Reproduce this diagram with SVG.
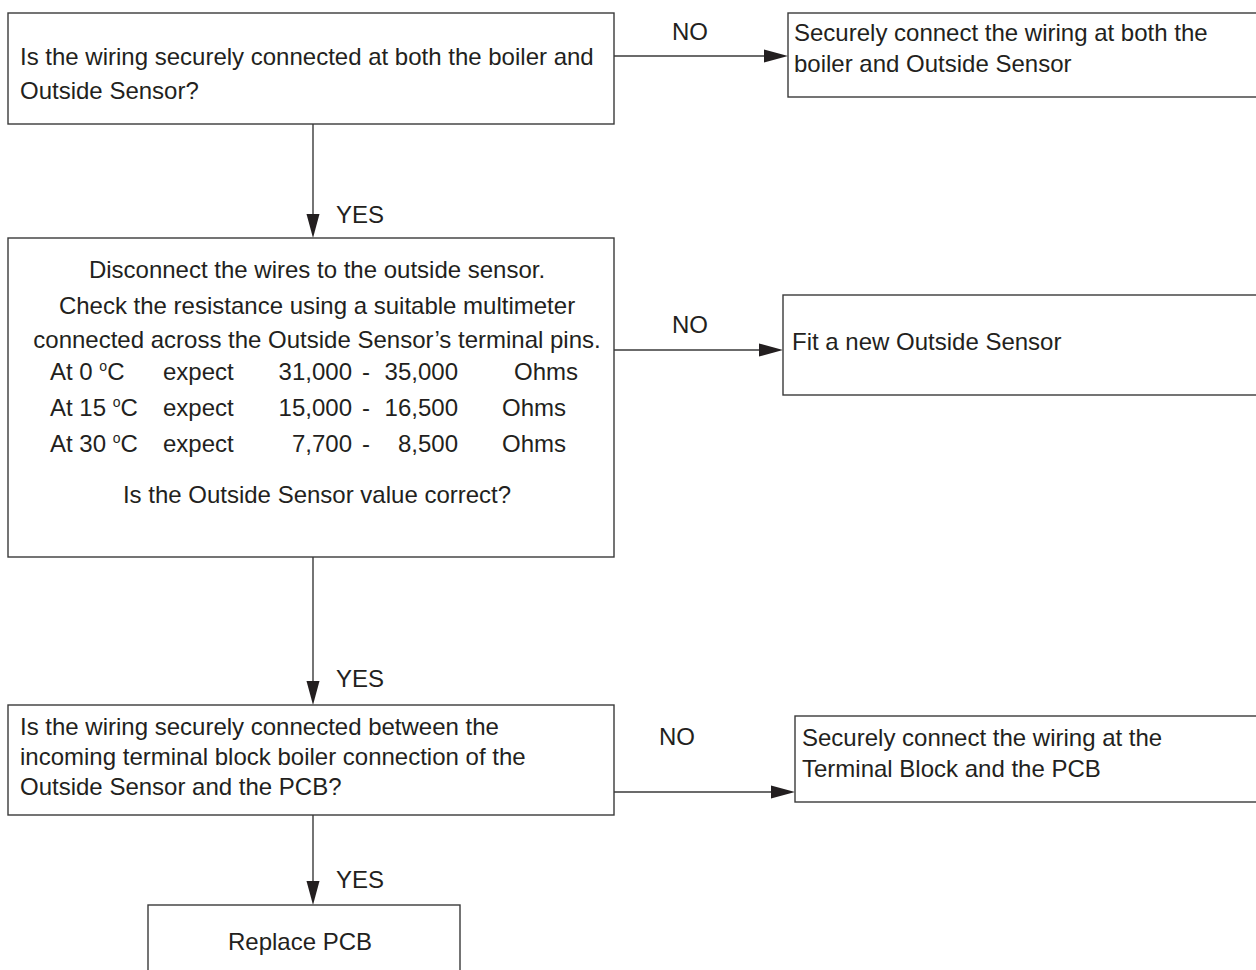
<svg xmlns="http://www.w3.org/2000/svg" width="1256" height="970" viewBox="0 0 1256 970">
<defs>
<style>
.box{fill:#fff;stroke:#3a3a3a;stroke-width:1.4}
.ln{fill:none;stroke:#3a3a3a;stroke-width:1.4}
.ah{fill:#231f20}
text{font-family:"Liberation Sans",Arial,sans-serif;font-size:24px;fill:#231f20}
.c{text-anchor:middle}
.sup{font-size:14px}
</style>
</defs>
<rect width="1256" height="970" fill="#fff"/>
<g id="connectors">
<line class="ln" x1="614" y1="56" x2="770" y2="56"/>
<polygon class="ah" points="788,56 764,49.5 764,62.5"/>
<text x="690" y="40" class="c">NO</text>
<line class="ln" x1="313" y1="124" x2="313" y2="220"/>
<polygon class="ah" points="313,238 306.5,214 319.5,214"/>
<text x="336" y="223">YES</text>
<line class="ln" x1="614" y1="350" x2="765" y2="350"/>
<polygon class="ah" points="783,350 759,343.5 759,356.5"/>
<text x="690" y="333" class="c">NO</text>
<line class="ln" x1="313" y1="557" x2="313" y2="687"/>
<polygon class="ah" points="313,705 306.5,681 319.5,681"/>
<text x="336" y="687">YES</text>
<line class="ln" x1="614" y1="792" x2="777" y2="792"/>
<polygon class="ah" points="795,792 771,785.5 771,798.5"/>
<text x="677" y="745" class="c">NO</text>
<line class="ln" x1="313" y1="815" x2="313" y2="887"/>
<polygon class="ah" points="313,905 306.5,881 319.5,881"/>
<text x="336" y="888">YES</text>
</g>
<g id="q1">
<rect class="box" x="8" y="13" width="606" height="111"/>
<text x="20" y="65">Is the wiring securely connected at both the boiler and</text>
<text x="20" y="99">Outside Sensor?</text>
</g>
<g id="a1">
<rect class="box" x="788" y="13" width="480" height="84"/>
<text x="794" y="41">Securely connect the wiring at both the</text>
<text x="794" y="72">boiler and Outside Sensor</text>
</g>
<g id="q2">
<rect class="box" x="8" y="238" width="606" height="319"/>
<text x="317" y="278" class="c">Disconnect the wires to the outside sensor.</text>
<text x="317" y="314" class="c">Check the resistance using a suitable multimeter</text>
<text x="317" y="348" class="c">connected across the Outside Sensor’s terminal pins.</text>
<text x="50" y="380">At 0 <tspan class="sup" dy="-9">o</tspan><tspan dy="9">C</tspan></text>
<text x="163" y="380">expect</text>
<text x="352" y="380" text-anchor="end">31,000</text>
<text x="362" y="380">-</text>
<text x="458" y="380" text-anchor="end">35,000</text>
<text x="514" y="380">Ohms</text>
<text x="50" y="416">At 15 <tspan class="sup" dy="-9">o</tspan><tspan dy="9">C</tspan></text>
<text x="163" y="416">expect</text>
<text x="352" y="416" text-anchor="end">15,000</text>
<text x="362" y="416">-</text>
<text x="458" y="416" text-anchor="end">16,500</text>
<text x="502" y="416">Ohms</text>
<text x="50" y="452">At 30 <tspan class="sup" dy="-9">o</tspan><tspan dy="9">C</tspan></text>
<text x="163" y="452">expect</text>
<text x="352" y="452" text-anchor="end">7,700</text>
<text x="362" y="452">-</text>
<text x="458" y="452" text-anchor="end">8,500</text>
<text x="502" y="452">Ohms</text>
<text x="317" y="503" class="c">Is the Outside Sensor value correct?</text>
</g>
<g id="a2">
<rect class="box" x="783" y="295" width="485" height="100"/>
<text x="792" y="350">Fit a new Outside Sensor</text>
</g>
<g id="q3">
<rect class="box" x="8" y="705" width="606" height="110"/>
<text x="20" y="735">Is the wiring securely connected between the</text>
<text x="20" y="765">incoming terminal block boiler connection of the</text>
<text x="20" y="795">Outside Sensor and the PCB?</text>
</g>
<g id="a3">
<rect class="box" x="795" y="716" width="473" height="86"/>
<text x="802" y="746">Securely connect the wiring at the</text>
<text x="802" y="777">Terminal Block and the PCB</text>
</g>
<g id="end">
<rect class="box" x="148" y="905" width="312" height="80"/>
<text x="300" y="950" class="c">Replace PCB</text>
</g>
</svg>
